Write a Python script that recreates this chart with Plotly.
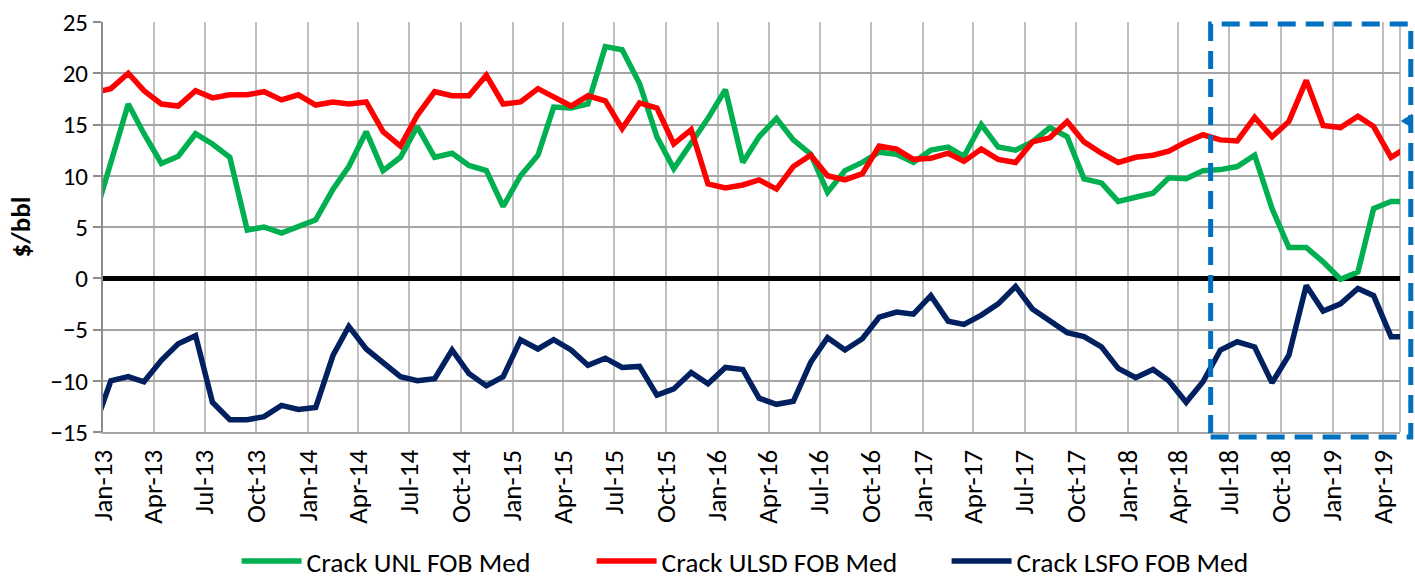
import pandas as pd
import plotly.graph_objects as go

# Monthly observations (mid-month), Dec-12 .. May-19 (first/last partially clipped by axis range)
months = pd.date_range("2012-12-01", "2019-05-01", freq="MS") + pd.Timedelta(days=14)

unl = [5.6,
       11.2, 17.0, 14.1, 11.2, 11.9, 14.1, 13.1, 11.8, 4.7, 5.0, 4.4, 5.0,
       5.7, 8.7, 10.9, 14.3, 10.5, 11.8, 14.8, 11.8, 12.2, 11.0, 10.5, 7.0,
       10.0, 12.0, 16.7, 16.6, 17.0, 22.6, 22.3, 19.0, 13.8, 10.7, 13.1, 15.6,
       18.4, 11.3, 13.8, 15.6, 13.5, 12.1, 8.4, 10.5, 11.3, 12.3, 12.1, 11.3,
       12.5, 12.8, 11.9, 15.0, 12.8, 12.5, 13.3, 14.7, 13.8, 9.7, 9.3, 7.5,
       7.9, 8.3, 9.8, 9.7, 10.5, 10.6, 10.9, 12.0, 6.8, 3.0, 3.0, 1.6,
       -0.1, 0.6, 6.8, 7.5,
       7.5]

ulsd = [18.1,
        18.5, 20.0, 18.3, 17.0, 16.8, 18.3, 17.6, 17.9, 17.9, 18.2, 17.4, 17.9,
        16.9, 17.2, 17.0, 17.2, 14.3, 12.9, 15.9, 18.2, 17.8, 17.8, 19.8, 17.0,
        17.2, 18.5, 17.7, 16.8, 17.8, 17.3, 14.6, 17.1, 16.6, 13.1, 14.5, 9.2,
        8.8, 9.1, 9.6, 8.7, 10.9, 12.0, 10.0, 9.6, 10.2, 12.9, 12.6, 11.6,
        11.7, 12.2, 11.4, 12.6, 11.6, 11.3, 13.3, 13.7, 15.3, 13.3, 12.2, 11.3,
        11.8, 12.0, 12.4, 13.3, 14.0, 13.5, 13.4, 15.7, 13.8, 15.3, 19.3, 14.9,
        14.7, 15.8, 14.8, 11.8,
        12.8]

lsfo = [-14.8,
        -10.0, -9.6, -10.1, -8.0, -6.4, -5.6, -12.1, -13.8, -13.8, -13.5, -12.4, -12.8,
        -12.6, -7.5, -4.7, -6.9, -8.2, -9.6, -10.0, -9.8, -7.0, -9.3, -10.5, -9.6,
        -6.0, -6.9, -6.0, -7.0, -8.5, -7.8, -8.7, -8.6, -11.4, -10.8, -9.2, -10.3,
        -8.7, -8.9, -11.7, -12.3, -12.0, -8.2, -5.8, -7.0, -5.9, -3.8, -3.3, -3.5,
        -1.7, -4.2, -4.5, -3.6, -2.5, -0.8, -3.0, -4.2, -5.3, -5.7, -6.7, -8.8,
        -9.7, -8.9, -10.0, -12.1, -10.1, -7.0, -6.2, -6.7, -10.2, -7.5, -0.7, -3.2,
        -2.5, -1.0, -1.7, -5.7,
        -5.7]

series_names = ["Crack UNL FOB Med", "Crack ULSD FOB Med", "Crack LSFO FOB Med"]
series_colors = ["#00B050", "#FF0000", "#002060"]
y_ticks = [-15, -10, -5, 0, 5, 10, 15, 20, 25]

FONT = "Carlito, Calibri, Lato, sans-serif"

fig = go.Figure()
for name, vals, col in zip(series_names, [unl, ulsd, lsfo], series_colors):
    fig.add_trace(go.Scatter(x=months, y=vals, mode="lines", name=name,
                             line=dict(color=col, width=5.5)))

fig.update_layout(
    width=1415, height=578,
    margin=dict(l=103, r=15, t=22, b=146, autoexpand=False),
    plot_bgcolor="white", paper_bgcolor="white",
    font=dict(family=FONT, size=24, color="black"),
    showlegend=True,
    legend=dict(orientation="h", x=0.103, xanchor="left", y=-0.315, yanchor="middle",
                font=dict(size=27.5), entrywidth=280, itemwidth=60,
                bgcolor="rgba(0,0,0,0)"),
)

fig.update_xaxes(
    type="date",
    range=["2013-01-01", "2019-05-01"],
    tick0="2013-01-01", dtick="M3", tickformat="%b-%y",
    tickangle=-90,
    showgrid=True, gridcolor="#BFBFBF", gridwidth=2,
    showline=True, linecolor="#A6A6A6", linewidth=2,
    ticks="", ticklen=0, ticklabelstandoff=5,
    tickfont=dict(size=27),
    automargin=False,
)

fig.update_yaxes(
    range=[-15, 25],
    tickvals=y_ticks,
    showgrid=True, gridcolor="#A6A6A6", gridwidth=2,
    zeroline=True, zerolinecolor="black", zerolinewidth=5,
    showline=True, linecolor="#8C8C8C", linewidth=2,
    ticks="outside", ticklen=8, tickcolor="#8C8C8C", tickwidth=2,
    tickfont=dict(size=25),
    title=dict(text="<b>$/bbl</b>", font=dict(size=27), standoff=12),
    automargin=False,
)

# right border of plot area
fig.add_shape(type="line", xref="paper", yref="paper", x0=1, x1=1, y0=0, y1=1,
              line=dict(color="#BFBFBF", width=2), layer="below")

# highlight box (dashed blue)
fig.add_shape(type="rect", xref="paper", yref="paper",
              x0=0.854, x1=1.0083, y0=-0.012, y1=0.995,
              line=dict(color="#0070C0", width=5, dash="18px,10px"),
              fillcolor="rgba(0,0,0,0)")
# small arrowhead on the box edge
fig.add_shape(type="path", xref="paper", yref="paper",
              path="M 1.0012 0.7585 L 1.0093 0.7745 L 1.0093 0.7425 Z",
              fillcolor="#0070C0", line=dict(color="#0070C0", width=1))

fig.write_html("out.html", config={"displayModeBar": False},
               post_script="document.body.style.margin='0';")
